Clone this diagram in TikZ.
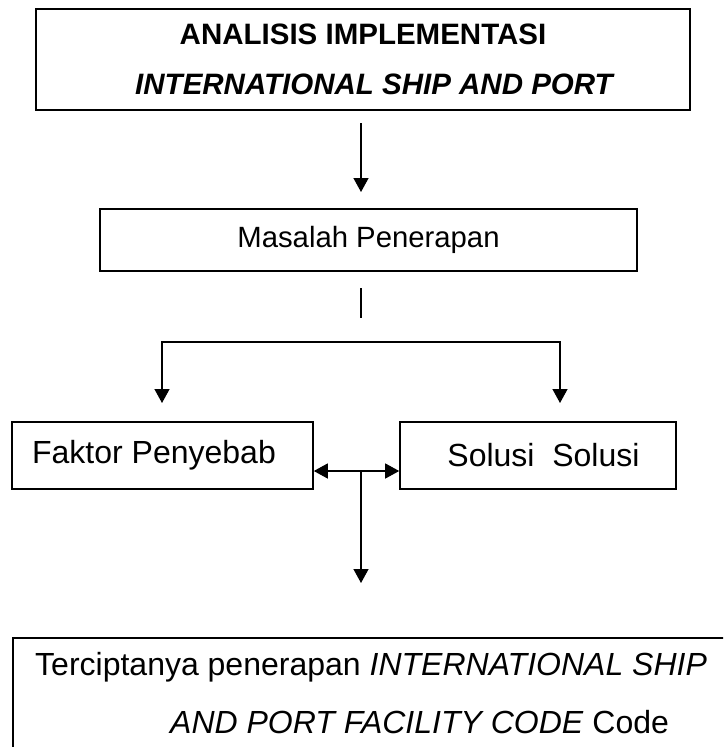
\documentclass[tikz,border=0pt]{standalone}
\usepackage{fontspec}
\setmainfont{Liberation Sans}
\usetikzlibrary{arrows.meta}
\begin{document}
\begin{tikzpicture}[x=1pt,y=-1pt,
  box/.style={draw, line width=1.6pt, inner sep=0pt},
  big/.style={font=\fontsize{32}{38}\selectfont},
  mid/.style={font=\fontsize{29.3}{34}\selectfont},
  txt/.style={inner sep=0pt, big},
  conn/.style={line width=1.3pt},
  arr/.style={conn, -{Triangle[width=15pt,length=14pt]}},
  darr/.style={conn, {Triangle[width=15pt,length=14pt]}-{Triangle[width=15pt,length=14pt]}}]
\useasboundingbox (0,0) rectangle (723,747);
\clip (0,0) rectangle (723,747);
\node[box, minimum width=654pt, minimum height=101pt, align=center,
      font=\bfseries\fontsize{29.5}{50}\selectfont] (top) at (363,59.5)
      {ANALISIS IMPLEMENTASI\\\hspace*{24pt}\textit{INTERNATIONAL SHIP AND PORT}};
\node[box, mid, minimum width=537pt, minimum height=62pt] (mas) at (368.5,240) {Masalah Penerapan};
\node[box, big, minimum width=301pt, minimum height=67pt] (fak) at (162.5,455.5) {Faktor Penyebab\hspace*{17pt}};
\node[box, big, minimum width=276pt, minimum height=67pt] (sol) at (538,455.5) {\hspace*{11pt}Solusi\ \ Solusi};
\node[box, anchor=north west, minimum width=800pt, minimum height=200pt] (res) at (12,637) {};
\node[txt, anchor=west] (l1) at (35,667) {Terciptanya penerapan \textit{INTERNATIONAL SHIP}};
\node[txt, anchor=west] (l2) at (170,722) {\textit{AND PORT FACILITY CODE} Code};
% connectors
\coordinate (a1) at (361,123);
\coordinate (a2) at (361,192);
\draw[arr] (a1) -- (a2);
\coordinate (m1) at (361,288);
\coordinate (m2) at (361,318);
\draw[conn] (m1) -- (m2);
\coordinate (bl) at (162,342);
\coordinate (br) at (560,342);
\coordinate (blt) at (162,403);
\coordinate (brt) at (560,403);
\draw[darr] (blt) -- (bl) -- (br) -- (brt);
\coordinate (dm) at (361,471);
\coordinate (dt) at (361,583);
\draw[darr] (fak.east |- dm) -- (sol.west |- dm);
\draw[arr] (dm) -- (dt);
\end{tikzpicture}
\end{document}
